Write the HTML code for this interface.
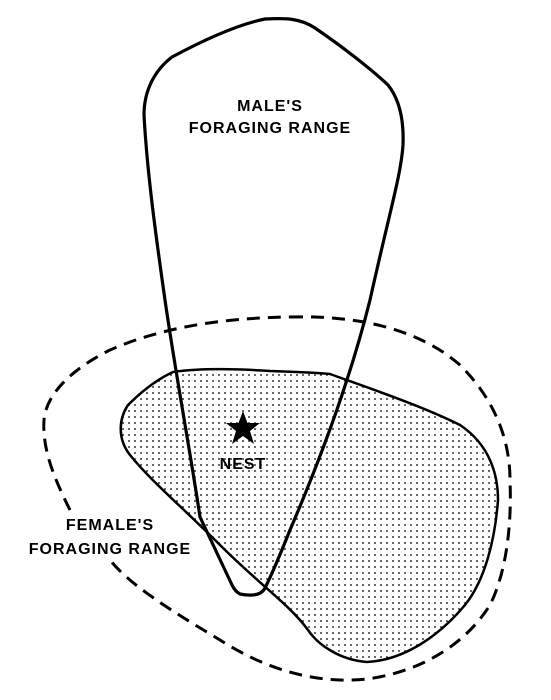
<!DOCTYPE html>
<html><head><meta charset="utf-8"><style>
html,body{margin:0;padding:0;background:#fff;}
svg{display:block;}
text{font-family:"Liberation Sans",sans-serif;font-size:16px;font-weight:bold;fill:#000;letter-spacing:1px;}
</style></head><body>
<svg width="551" height="700" viewBox="0 0 551 700">
<defs>
<pattern id="dots" width="6" height="6" patternUnits="userSpaceOnUse">
<circle cx="3" cy="3" r="0.9" fill="#000"/>
</pattern>
</defs>
<path d="M173,372 C200,368 240,369 270,371 C300,372 320,373 330,374 C360,385 420,405 460,425 C490,445 498,475 498,500 C495,540 485,580 465,605 C440,635 405,660 367,662 C340,660 318,645 308,630 C290,605 260,585 220,545 C180,505 150,480 130,455 C118,440 118,420 128,405 C145,388 160,378 173,372 Z" fill="url(#dots)" stroke="#000" stroke-width="2.5"/>
<path d="M290,317 C360,315 420,330 460,365 C495,400 510,440 510,480 C512,530 505,575 490,605 C465,645 420,672 367,679 C320,684 270,672 220,640 C170,610 130,585 110,560 M70,510 C55,480 42,450 44,420 C46,395 70,370 110,350 C160,328 220,318 290,317" fill="none" stroke="#000" stroke-width="3" stroke-dasharray="13,8"/>
<path d="M265,19 C285,18 300,18 315,28 C340,45 370,68 388,85 C400,100 404,120 403,145 C401,175 390,210 370,300 C350,380 320,460 290,530 C280,555 270,578 265,588 C261,596 250,596 240,594 C236,592 234,589 232,585 L200,517 C190,450 175,370 165,300 C155,230 147,170 144,115 C144,90 155,70 172,57 C200,42 235,25 265,19 Z" fill="none" stroke="#000" stroke-width="3.2" stroke-linejoin="round"/>
<polygon fill="#000" points="243,411 247.5,423 260,423 250,431 254,444 243,436 232,444 236,431 226,423 238.5,423"/>
<text x="243" y="469" text-anchor="middle">NEST</text>
<text x="270" y="111" text-anchor="middle">MALE'S</text>
<text x="270" y="133" text-anchor="middle">FORAGING  RANGE</text>
<text x="110" y="530" text-anchor="middle">FEMALE'S</text>
<text x="110" y="554" text-anchor="middle">FORAGING  RANGE</text>
</svg>
</body></html>
